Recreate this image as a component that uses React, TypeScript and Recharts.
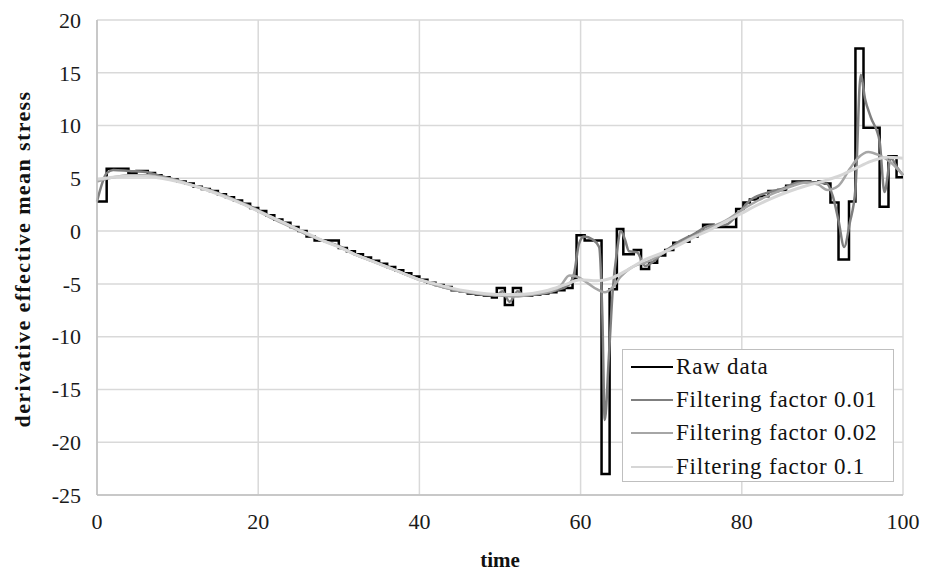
import { LineChart, Line, XAxis, YAxis, CartesianGrid, Legend } from "recharts";

const FONT = '"Liberation Serif", Tinos, "DejaVu Serif", "Noto Serif", serif';

const X_TICKS = [0, 20, 40, 60, 80, 100];
const Y_TICKS = [-25, -20, -15, -10, -5, 0, 5, 10, 15, 20];

// [time, value] where the raw derivative changes (drawn as steps)
const RAW: [number, number][] = [
  [0, 2.8], [1.2, 5.9], [3.9, 5.5], [4.9, 5.7], [6.3, 5.5], [7.2, 5.3], [8, 5.1], [9, 4.9],
  [10, 4.7], [11, 4.5], [12, 4.2], [13, 4.0], [14, 3.8], [15, 3.5], [16, 3.2], [17, 2.9],
  [18, 2.6], [19, 2.2], [20, 1.9], [21, 1.5], [22, 1.1], [23, 0.8], [24, 0.4], [25, 0.0],
  [26, -0.5], [27, -0.9], [30, -1.6], [31, -1.9], [32, -2.2], [33, -2.5], [34, -2.8],
  [35, -3.1], [36, -3.4], [37, -3.7], [38, -4.0], [39, -4.3], [40, -4.6], [41, -4.9],
  [42, -5.1], [43, -5.3], [44, -5.6], [45, -5.7], [46, -5.9], [47, -6.0], [48, -6.1],
  [49, -6.3], [49.6, -5.4], [50.6, -7.0], [51.6, -5.4], [52.6, -6.1], [54, -6.0], [55, -5.9],
  [56, -5.8], [57, -5.6], [58, -5.4], [59, -4.5], [59.5, -0.4], [60.5, -0.9], [62.6, -23.0],
  [63.6, -5.5], [64.5, 0.2], [65.3, -2.2], [66.6, -1.8], [67.5, -3.6], [68.5, -3.0],
  [69.5, -2.3], [70.5, -1.8], [71.5, -1.1], [72.5, -1.0], [73.5, -0.5], [74.5, -0.1],
  [75.2, 0.6], [76.5, 0.4], [77.5, 0.4], [79.3, 2.1], [80.2, 2.7], [81, 3.0], [82, 3.3],
  [83.3, 3.8], [84.5, 3.9], [85.5, 4.3], [86.3, 4.7], [87.5, 4.7], [88.5, 4.6], [89.5, 4.7],
  [90.3, 4.5], [91, 2.7], [92, -2.7], [93.3, 2.8], [94.1, 17.3], [95.1, 9.8], [97.1, 2.3],
  [98.2, 7.1], [99.2, 5.1], [100, 5.1],
];

const F001: [number, number][] = [
  [0, 2.8], [1.2, 5.5], [2, 5.8], [4, 5.7], [6, 5.6], [8, 5.2], [10, 4.8], [12, 4.3],
  [14, 3.9], [16, 3.3], [18, 2.7], [20, 2.0], [22, 1.2], [24, 0.5], [26, -0.3], [28, -0.9],
  [30, -1.4], [32, -2.2], [34, -2.8], [36, -3.4], [38, -4.0], [40, -4.6], [42, -5.1],
  [44, -5.5], [46, -5.8], [48, -6.0], [49.5, -6.1], [50.3, -5.7], [51.2, -6.7], [52.2, -5.7],
  [53, -6.1], [55, -5.9], [57, -5.6], [58.5, -5.1], [59.2, -4.0], [59.8, -1.2], [60.4, -0.5],
  [61.5, -0.8], [62.3, -1.5], [62.7, -8.0], [63.0, -17.9], [63.5, -12.0], [64, -5.5],
  [64.5, -2.0], [65, 0.0], [65.5, -0.8], [66, -1.9], [67, -2.0], [68, -3.3], [69, -2.9],
  [70, -2.2], [72, -1.1], [74, -0.3], [76, 0.5], [78, 0.6], [79.6, 1.7], [81, 2.9],
  [83, 3.6], [85, 4.0], [87, 4.6], [89, 4.6], [90.5, 4.5], [91.3, 3.3], [92, 1.0],
  [92.7, -1.5], [93.4, 0.8], [94.1, 4.0], [94.75, 14.8], [95.3, 12.5], [96, 10.8],
  [97.1, 8.5], [97.7, 3.7], [98.5, 6.9], [99.3, 6.0], [100, 5.3],
];

const F002: [number, number][] = [
  [0, 4.7], [2, 5.1], [4, 5.3], [6, 5.3], [8, 5.1], [10, 4.8], [12, 4.3], [14, 3.8],
  [16, 3.3], [18, 2.6], [20, 1.9], [22, 1.1], [24, 0.4], [26, -0.3], [28, -0.9], [30, -1.5],
  [32, -2.2], [34, -2.8], [36, -3.4], [38, -4.0], [40, -4.6], [42, -5.1], [44, -5.5],
  [46, -5.8], [48, -6.0], [50, -6.1], [52, -6.2], [54, -6.0], [56, -5.8], [57.5, -5.2],
  [58.6, -4.2], [59.5, -4.3], [61, -5.0], [62, -5.5], [63, -5.8], [64, -5.3], [65, -4.3],
  [66, -3.6], [67, -3.2], [68, -3.0], [70, -2.2], [72, -1.3], [74, -0.5], [76, 0.3],
  [78, 1.0], [80, 2.0], [82, 2.9], [84, 3.6], [86, 4.2], [88, 4.6], [89.5, 4.4],
  [90.6, 3.9], [92, 4.3], [93.4, 5.9], [94.5, 7.0], [95.7, 7.5], [97, 7.2], [98.5, 6.5],
  [100, 5.3],
];

const F01: [number, number][] = [
  [0, 4.9], [2, 5.1], [4, 5.2], [6, 5.2], [8, 5.0], [10, 4.7], [12, 4.3], [14, 3.8],
  [16, 3.2], [18, 2.6], [20, 1.9], [22, 1.2], [24, 0.5], [26, -0.2], [28, -0.9], [30, -1.5],
  [32, -2.2], [34, -2.8], [36, -3.4], [38, -4.0], [40, -4.6], [42, -5.0], [44, -5.4],
  [46, -5.7], [48, -5.9], [50, -6.0], [52, -6.0], [54, -5.9], [56, -5.6], [58, -5.1],
  [60, -4.6], [62, -4.7], [64, -4.4], [66, -3.6], [68, -2.7], [70, -2.1], [72, -1.4],
  [74, -0.6], [76, 0.1], [78, 0.9], [80, 1.7], [82, 2.5], [84, 3.2], [86, 3.8], [88, 4.3],
  [90, 4.7], [92, 5.2], [94, 5.9], [96, 6.6], [98, 7.0], [100, 6.9],
];

const SERIES = [
  { name: "Raw data", pts: RAW, color: "#000000", width: 2.5, type: "stepAfter" as const },
  { name: "Filtering factor 0.01", pts: F001, color: "#7f7f7f", width: 2.5, type: "monotone" as const },
  { name: "Filtering factor 0.02", pts: F002, color: "#a6a6a6", width: 2.5, type: "monotone" as const },
  { name: "Filtering factor 0.1", pts: F01, color: "#d6d6d6", width: 3, type: "monotone" as const },
];

function LegendBox() {
  return (
    <div
      style={{
        width: 272,
        height: 133,
        boxSizing: "border-box",
        border: "1.5px solid #bfbfbf",
        background: "#fff",
        padding: "0 0 0 8px",
        fontFamily: FONT,
        fontSize: 23,
        letterSpacing: 0.8,
        color: "#111",
      }}
    >
      {SERIES.map((s) => (
        <div key={s.name} style={{ display: "flex", alignItems: "center", height: 33.3 }}>
          <span style={{ width: 42, borderTop: `2.5px solid ${s.color}`, marginRight: 3 }} />
          <span>{s.name}</span>
        </div>
      ))}
    </div>
  );
}

export default function App() {
  return (
    <div style={{ position: "absolute", left: 0, top: 0, background: "#fff", fontFamily: FONT }}>
      <LineChart width={925} height={573} margin={{ top: 20, right: 22, left: 0, bottom: 0 }}>
        <CartesianGrid stroke="#d9d9d9" strokeWidth={1.5} />
        <XAxis
          type="number"
          dataKey="t"
          domain={[0, 100]}
          ticks={X_TICKS}
          height={78}
          tickLine={false}
          tickMargin={12}
          axisLine={{ stroke: "#bfbfbf", strokeWidth: 1.5 }}
          tick={{ fontFamily: FONT, fontSize: 22, fill: "#1a1a1a" }}
          label={{
            content: () => (
              <text x={500} y={567} textAnchor="middle" fontFamily={FONT} fontSize={21} fontWeight="bold" fill="#111">
                time
              </text>
            ),
          }}
        />
        <YAxis
          type="number"
          domain={[-25, 20]}
          ticks={Y_TICKS}
          width={97}
          tickLine={false}
          tickMargin={10}
          axisLine={{ stroke: "#bfbfbf", strokeWidth: 1.5 }}
          tick={{ fontFamily: FONT, fontSize: 22, fill: "#1a1a1a" }}
          label={{
            content: () => (
              <text
                x={22}
                y={259}
                transform="rotate(-90 22 259)"
                textAnchor="middle"
                dominantBaseline="central"
                fontFamily={FONT}
                fontSize={22}
                fontWeight="bold"
                letterSpacing={1.4}
                fill="#111"
              >
                derivative effective mean stress
              </text>
            ),
          }}
        />
        {SERIES.map((s) => (
          <Line
            key={s.name}
            name={s.name}
            data={s.pts.map(([t, v]) => ({ t, v }))}
            dataKey="v"
            type={s.type}
            stroke={s.color}
            strokeWidth={s.width}
            dot={false}
            activeDot={false}
            isAnimationActive={false}
          />
        ))}
        <Legend
          layout="horizontal"
          verticalAlign="middle"
          align="center"
          content={() => <LegendBox />}
          wrapperStyle={{ position: "absolute", left: 622, top: 349, width: 272 }}
        />
      </LineChart>
    </div>
  );
}
